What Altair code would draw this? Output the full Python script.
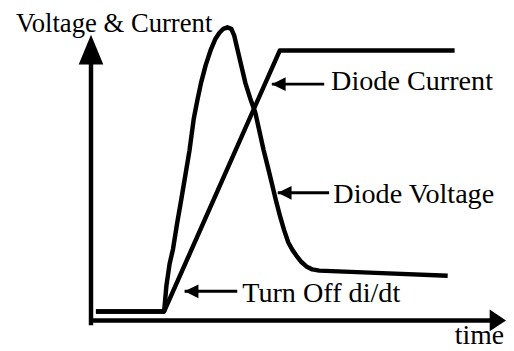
import altair as alt
import pandas as pd

# Diode current (time, value)
cur_t = [1.19, 17.62, 45.48, 87.62]
cur_v = [3.35, 3.35, 99.56, 99.56]

# Diode voltage (time, value)
vol_t = [1.19, 17.62, 18.17, 18.93, 19.76, 20.71, 21.74, 22.74, 23.74, 24.76, 25.60,
         26.50, 27.62, 28.88, 30.0, 30.95, 31.90, 32.86, 33.81, 34.52, 35.24, 36.19,
         37.21, 38.33, 39.60, 40.60, 41.60, 42.62, 43.57, 44.52, 45.55, 46.55, 47.55,
         48.57, 49.52, 50.71, 51.90, 53.33, 55.0, 68.57, 85.95]
vol_v = [3.35, 3.35, 12.83, 20.85, 26.31, 35.42, 44.53, 53.64, 62.76, 74.42, 80.98,
         87.54, 94.10, 99.93, 103.94, 106.12, 107.58, 108.13, 107.58, 105.03, 100.29, 94.10,
         87.54, 82.08, 76.60, 69.68, 62.76, 56.56, 50.62, 44.53, 38.45, 33.24, 28.75,
         25.95, 23.87, 21.57, 19.93, 18.84, 18.40, 17.57, 16.47]

# Annotations
ann_label = ["Diode Current", "Diode Voltage", "Turn Off di/dt"]
ann_tip_t = [43.57, 45.0, 22.55]
ann_end_t = [56.19, 57.38, 35.24]
ann_arrow_v = [87.17, 47.08, 10.75]
ann_text_t = [57.86, 58.4, 36.43]
ann_text_v = [84.87, 43.33, 6.89]

# Axes (time, value extents)
yaxis_t = [0.0]
yaxis_v0 = [-1.75]
yaxis_v1 = [95.55]
yaxis_tip_v = [105.39]
xaxis_t0 = [-0.48]
xaxis_t1 = [97.14]
xaxis_tip_t = [100.0]
axis_titles = ["Voltage & Current", "time"]
axis_title_t = [-18.1, 99.52]
axis_title_v = [106.47, -8.67]

FONT = "Liberation Serif"
xs = alt.Scale(domain=[-20, 100], nice=False, zero=False)
ys = alt.Scale(domain=[-10.5, 114.5], nice=False, zero=False)

curves = pd.DataFrame(
    {"t": cur_t + vol_t, "v": cur_v + vol_v,
     "series": ["current"] * len(cur_t) + ["voltage"] * len(vol_t),
     "order": list(range(len(cur_t))) + list(range(len(vol_t)))}
)
ann = pd.DataFrame({"label": ann_label, "tip": ann_tip_t, "end": ann_end_t,
                    "av": ann_arrow_v, "tt": ann_text_t, "tv": ann_text_v})
yax = pd.DataFrame({"t": yaxis_t, "v0": yaxis_v0, "v1": yaxis_v1, "tip": yaxis_tip_v})
xax = pd.DataFrame({"t0": xaxis_t0, "t1": xaxis_t1, "v": [0.0], "tip": xaxis_tip_t})
titles = pd.DataFrame({"label": axis_titles, "t": axis_title_t, "v": axis_title_v})

X = lambda f: alt.X(f, type="quantitative", scale=xs, axis=None)
Y = lambda f: alt.Y(f, type="quantitative", scale=ys, axis=None)

lines = alt.Chart(curves).mark_line(color="black", strokeWidth=4.5, strokeJoin="round").encode(
    x=X("t"), y=Y("v"), detail="series:N", order="order:Q"
)

y_line = alt.Chart(yax).mark_rule(color="black", strokeWidth=4.5).encode(
    x=X("t"), y=Y("v0"), y2="v1"
)
y_head = alt.Chart(yax).mark_point(
    shape="M0,0L0.83,2L-0.83,2Z", size=900, filled=True, color="black", opacity=1, strokeWidth=0
).encode(x=X("t"), y=Y("tip"))

x_line = alt.Chart(xax).mark_rule(color="black", strokeWidth=4.5).encode(
    x=X("t0"), x2="t1", y=Y("v")
)
x_head = alt.Chart(xax).mark_point(
    shape="M0,0L-1.5,-1L-1.5,1Z", size=484, filled=True, color="black", opacity=1, strokeWidth=0
).encode(x=X("tip"), y=Y("v"))

ann_line = alt.Chart(ann).mark_rule(color="black", strokeWidth=3).encode(
    x=X("tip"), x2="end", y=Y("av")
)
ann_head = alt.Chart(ann).mark_point(
    shape="M0,0L2,-1L2,1Z", size=196, filled=True, color="black", opacity=1, strokeWidth=0
).encode(x=X("tip"), y=Y("av"))
ann_text = alt.Chart(ann).mark_text(
    font=FONT, fontSize=28.5, color="black", align="left", baseline="alphabetic"
).encode(x=X("tt"), y=Y("tv"), text="label:N")

title_left = alt.Chart(titles.iloc[[0]]).mark_text(
    font=FONT, fontSize=27, color="black", align="left", baseline="alphabetic"
).encode(x=X("t"), y=Y("v"), text="label:N")
title_right = alt.Chart(titles.iloc[[1]]).mark_text(
    font=FONT, fontSize=28, color="black", align="right", baseline="alphabetic"
).encode(x=X("t"), y=Y("v"), text="label:N")

chart = alt.layer(
    lines, y_line, y_head, x_line, x_head, ann_line, ann_head, ann_text, title_left, title_right
).properties(
    width=504, height=343, padding=0, autosize=alt.AutoSizeParams(type="none"),
    background="white"
).configure_view(stroke=None)

chart.save("out.html", embed_options={"renderer": "svg", "actions": False})
